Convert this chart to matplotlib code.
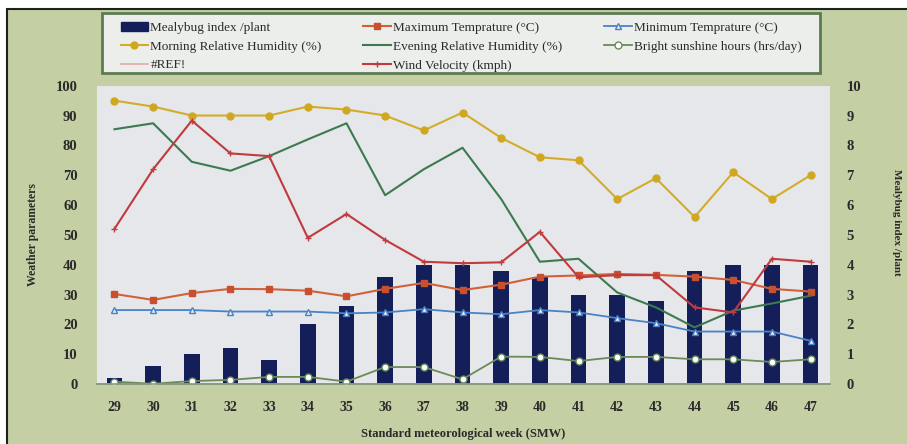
import numpy as np
import matplotlib.pyplot as plt
from matplotlib.lines import Line2D
from matplotlib.patches import Rectangle

plt.rcParams['font.family'] = ['Liberation Serif', 'DejaVu Serif']

weeks = [29, 30, 31, 32, 33, 34, 35, 36, 37, 38, 39, 40, 41, 42, 43, 44, 45, 46, 47]
mealybug = [0.2, 0.6, 1.0, 1.2, 0.8, 2.0, 2.6, 3.6, 4.0, 4.0, 3.8, 3.6, 3.0, 3.0, 2.8, 3.8, 4.0, 4.0, 4.0]
max_temp = [30.2, 28.2, 30.5, 31.9, 31.8, 31.3, 29.4, 31.9, 33.9, 31.5, 33.3, 36.0, 36.4, 36.9, 36.6, 36.0, 34.9, 31.9, 31.0]
min_temp = [24.8, 24.8, 24.8, 24.3, 24.3, 24.3, 23.7, 24.0, 25.1, 24.0, 23.4, 24.8, 24.0, 22.1, 20.4, 17.6, 17.6, 17.6, 14.5]
morning_rh = [95, 93, 90, 90, 90, 93, 92, 90, 85, 91, 82.5, 76, 75, 62, 69, 56, 71, 62, 70]
evening_rh = [85.4, 87.4, 74.5, 71.5, 76.4, 82, 87.4, 63.3, 72, 79.2, 62, 41, 42, 30.7, 25.7, 19, 24.6, 27, 29.6]
sunshine = [0.8, 0.1, 1.0, 1.4, 2.4, 2.4, 0.8, 5.7, 5.7, 1.6, 9.2, 9.1, 7.7, 9.1, 9.1, 8.3, 8.3, 7.4, 8.3]
wind = [52, 72, 88.3, 77.3, 76.4, 49, 57, 48.3, 41, 40.5, 40.8, 51, 35.8, 36.5, 36.5, 25.7, 24, 42, 41]

W, H = 907, 444
fig = plt.figure(figsize=(W / 100, H / 100), dpi=100, facecolor='white')

# green photo background with dark frame on top/left
fig.add_artist(Rectangle((7 / W, -0.05), 1.1, 1.05 - 9 / H, transform=fig.transFigure,
                         facecolor='#c4cfa4', edgecolor='#1e221e', lw=1.5, zorder=-10))

ax2 = fig.add_axes([0.107, 0.135, 0.808, 0.672])
ax = ax2.twinx()
ax.yaxis.tick_left()
ax.yaxis.set_label_position('left')
ax2.yaxis.tick_right()
ax2.yaxis.set_label_position('right')
ax.set_zorder(ax2.get_zorder() + 1)
ax.patch.set_visible(False)
ax2.set_facecolor('#e5e7ea')

ax2.bar(weeks, mealybug, width=0.4, color='#141e58', zorder=2)

ax.plot(weeks, max_temp, color='#d4603a', lw=1.5, marker='s', ms=5, mfc='#c8502e', mec='#c8502e')
ax.plot(weeks, min_temp, color='#4a82c8', lw=1.3, marker='^', ms=4, mfc='#e8eef4', mec='#4a82c8')
ax.plot(weeks, morning_rh, color='#d4ac2a', lw=1.5, marker='o', ms=5, mfc='#d0a820', mec='#d0a820')
ax.plot(weeks, evening_rh, color='#3c7a50', lw=1.5)
ax.plot(weeks, sunshine, color='#6a8a5a', lw=1.3, marker='o', ms=5, mfc='white', mec='#6a8a5a')
ax.plot(weeks, wind, color='#c03a3e', lw=1.5, marker='+', ms=5, mew=1)

ax.set_xlim(28.55, 47.5)
ax.set_ylim(0, 100)
ax2.set_ylim(0, 10)
ax.set_yticks(np.arange(0, 101, 10))
ax2.set_yticks(np.arange(0, 11, 1))
ax.set_xticks(weeks)
ax2.set_xticks(weeks)
ax2.set_xticklabels([str(w) for w in weeks], fontweight='bold', fontsize=10, color='#2a2a2a')
for lbl in ax.get_yticklabels() + ax2.get_yticklabels():
    lbl.set_fontweight('bold')
    lbl.set_fontsize(10.5)
    lbl.set_color('#2a2a2a')
ax.tick_params(length=0, pad=14)
ax2.tick_params(axis='y', length=0, pad=12)
ax2.tick_params(axis='x', length=0, pad=12)

for a in (ax, ax2):
    for s in ('top', 'right', 'left'):
        a.spines[s].set_visible(False)
    a.spines['bottom'].set_color('#8a9a80')
    a.spines['bottom'].set_linewidth(1.2)

ax.set_ylabel('Weather parameters', fontweight='bold', fontsize=8.5, color='#2a2a2a', labelpad=12)
ax2.set_xlabel('Standard meteorological week (SMW)', fontweight='bold', fontsize=9, color='#2a2a2a', labelpad=10)
fig.text(0.988, 0.5, 'Mealybug index /plant', rotation=270, fontweight='bold', fontsize=8,
         color='#2a2a2a', ha='center', va='center')

handles = [
    Rectangle((0, 0), 1, 1, color='#141e58'),
    Line2D([], [], color='#d4ac2a', lw=1.5, marker='o', ms=5, mfc='#d0a820', mec='#d0a820'),
    Line2D([], [], color='#e4a8a8', lw=1.2),
    Line2D([], [], color='#d4603a', lw=1.5, marker='s', ms=5, mfc='#c8502e', mec='#c8502e'),
    Line2D([], [], color='#3c7a50', lw=1.5),
    Line2D([], [], color='#c03a3e', lw=1.5, marker='+', ms=5),
    Line2D([], [], color='#4a82c8', lw=1.3, marker='^', ms=4, mfc='#e8eef4', mec='#4a82c8'),
    Line2D([], [], color='#6a8a5a', lw=1.3, marker='o', ms=5, mfc='white', mec='#6a8a5a'),
]
labels = ['Mealybug index /plant', 'Morning Relative Humidity (%)', '#REF!',
          'Maximum Temprature (\u00b0C)', 'Evening Relative Humidity (%)', 'Wind Velocity (kmph)',
          'Minimum Temprature (\u00b0C)', 'Bright sunshine hours (hrs/day)']

# legend box drawn separately so the entries can sit inset like the original
fig.add_artist(Rectangle((102 / W, 1 - 73 / H), 718 / W, 60 / H, transform=fig.transFigure,
                         facecolor='#eceeec', edgecolor='#5e7a52', lw=2, zorder=5))
leg = fig.legend(handles, labels, ncol=3, loc='upper left',
                 bbox_to_anchor=(114 / W, 0.6, 694 / W, 0.4 - 15 / H),
                 mode='expand', fontsize=9.5, frameon=False, handlelength=2.1,
                 handletextpad=0.15, borderpad=0.0, labelspacing=0.5, columnspacing=1.0)
leg.set_zorder(6)
for t in leg.get_texts():
    t.set_color('#2a2a2a')

fig.savefig('out.png', dpi=100, facecolor=fig.get_facecolor())
